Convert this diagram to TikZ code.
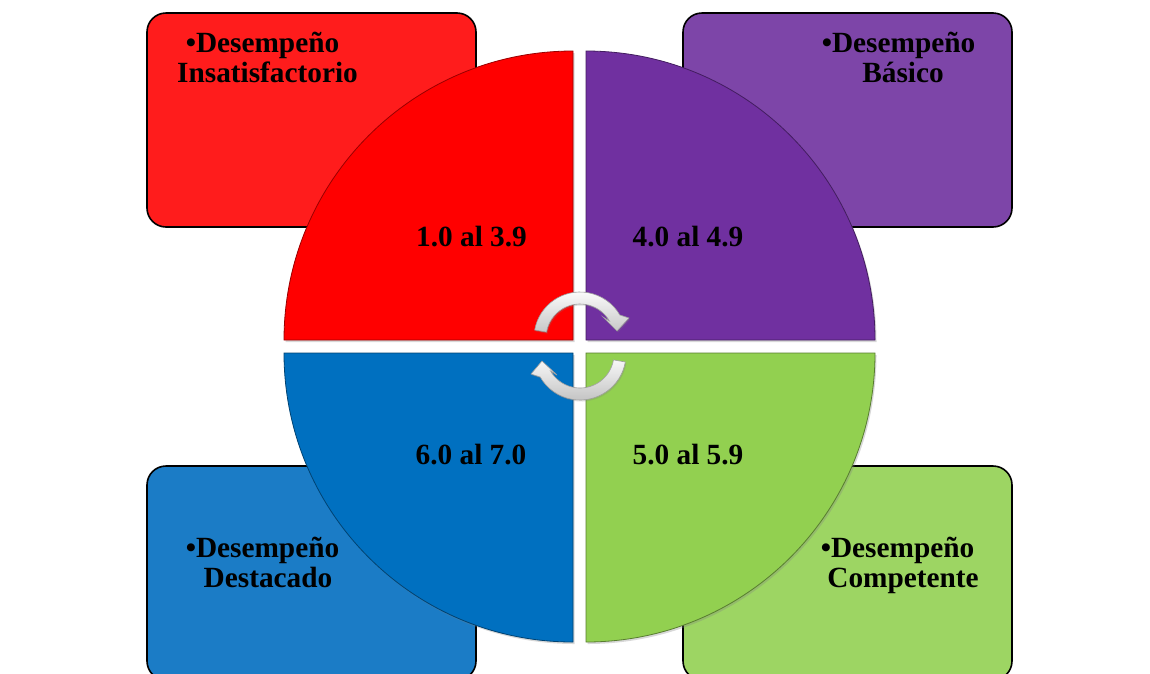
\documentclass[tikz,border=0pt]{standalone}
\usepackage{fontspec}
\setmainfont{Liberation Serif}
\usetikzlibrary{shadows,calc}
\definecolor{qred}{HTML}{FF0000}
\definecolor{qpurple}{HTML}{7030A0}
\definecolor{qblue}{HTML}{0070C0}
\definecolor{qgreen}{HTML}{92D050}
\definecolor{bred}{HTML}{FF1C1C}
\definecolor{bpurple}{HTML}{7D45A8}
\definecolor{bblue}{HTML}{1B7CC6}
\definecolor{bgreen}{HTML}{9DD563}
\begin{document}
\begin{tikzpicture}[x=1pt,y=-1pt,
  lbl/.style={font=\fontsize{29.3}{35}\selectfont\bfseries, inner sep=0pt, anchor=base, text=black},
  box/.style={draw=black, line width=1.6pt, rounded corners=19pt, inner sep=0pt,
              minimum width=329pt, minimum height=214pt},
  quad/.style={line width=0.8pt, drop shadow={opacity=0.3, shadow xshift=1.5pt, shadow yshift=-2pt}},
  cyc/.style={top color=white, bottom color=black!25, draw=black!38, line width=0.6pt,
              drop shadow={opacity=0.25, shadow xshift=1pt, shadow yshift=-1.5pt}}]
\useasboundingbox (0,0) rectangle (1150,673);
\clip (0,0) rectangle (1150,673);
\fill[white] (0,0) rectangle (1150,673);

% outer boxes
\node[box, fill=bred]    (boxR) at (311.5,120) {};
\node[box, fill=bpurple] (boxP) at (847.5,120) {};
\node[box, fill=bblue]   (boxB) at (311.5,573) {};
\node[box, fill=bgreen]  (boxG) at (847.5,573) {};

% box labels
\node[lbl] (tR1) at (262.5,52) {•Desempeño};
\node[lbl] (tR2) at (267.5,82) {Insatisfactorio};
\node[lbl] (tP1) at (898.5,52) {•Desempeño};
\node[lbl] (tP2) at (903,82) {Básico};
\node[lbl] (tB1) at (262.5,557) {•Desempeño};
\node[lbl] (tB2) at (268,587) {Destacado};
\node[lbl] (tG1) at (897.5,557) {•Desempeño};
\node[lbl] (tG2) at (903,587) {Competente};

% quadrants
\path[quad, fill=qred, draw=qred!60!black]
  (573,340) -- ++(-180:289) arc[start angle=-180, end angle=-90, radius=289] -- cycle;
\path[quad, fill=qpurple, draw=qpurple!60!black]
  (586,340) -- ++(-90:289) arc[start angle=-90, end angle=0, radius=289] -- cycle;
\path[quad, fill=qgreen, draw=qgreen!60!black]
  (586,353) -- ++(0:289) arc[start angle=0, end angle=90, radius=289] -- cycle;
\path[quad, fill=qblue, draw=qblue!60!black]
  (573,353) -- ++(90:289) arc[start angle=90, end angle=180, radius=289] -- cycle;

% quadrant labels
\node[lbl] (q1) at (471.5,246) {1.0 al 3.9};
\node[lbl] (q2) at (688,246) {4.0 al 4.9};
\node[lbl] (q3) at (471,464) {6.0 al 7.0};
\node[lbl] (q4) at (688,464) {5.0 al 5.9};

% circular arrows
\coordinate (cU) at (580,338);
\coordinate (cL) at (580,354);
\path[cyc]
  (cU) ++(-170:46) arc[start angle=-170, end angle=-30, radius=46]
  -- (629,318) -- (617,331) -- (603,317)
  -- ($(cU)+(-30:34)$) arc[start angle=-30, end angle=-170, radius=34] -- cycle;
\path[cyc]
  (cL) ++(10:46) arc[start angle=10, end angle=150, radius=46]
  -- (531,374) -- (542,361) -- (557,375)
  -- ($(cL)+(150:34)$) arc[start angle=150, end angle=10, radius=34] -- cycle;
\end{tikzpicture}
\end{document}
